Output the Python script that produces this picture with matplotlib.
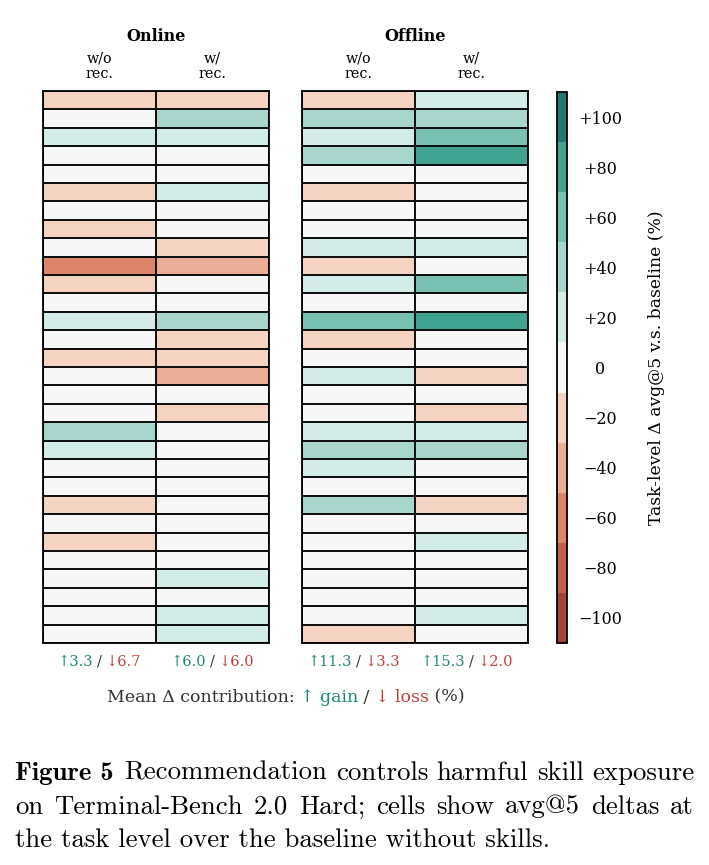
import numpy as np
import matplotlib
matplotlib.use("Agg")
import matplotlib.pyplot as plt
from matplotlib.colors import ListedColormap, BoundaryNorm

# task-level avg@5 delta vs. no-skill baseline (%), 30 Terminal-Bench hard tasks
online_wo = [-20, 0, 20, 0, 0, -20, 0, -20, 0, -60, -20, 0, 20, 0, -20,
             0, 0, 0, 40, 20, 0, 0, -20, 0, -20, 0, 0, 0, 0, 0]
online_w = [-20, 40, 20, 0, 0, 20, 0, 0, -20, -40, 0, 0, 40, -20, -20,
            -40, 0, -20, 0, 0, 0, 0, 0, 0, 0, 0, 20, 0, 20, 20]
offline_wo = [-20, 40, 20, 40, 0, -20, 0, 0, 20, -20, 20, 0, 60, -20, 0,
              20, 0, 0, 20, 40, 20, 0, 40, 0, 0, 0, 0, 0, 0, -20]
offline_w = [20, 40, 60, 80, 0, 0, 0, 0, 20, 0, 60, 0, 80, 0, 0,
             -20, 0, -20, 20, 40, 0, 0, -20, 0, 20, 0, 0, 0, 20, 0]

panels = ["Online", "Offline"]
col_labels = ["w/o\nrec.", "w/\nrec."]
cbar_ticks = np.arange(-100, 101, 20)
bin_edges = np.arange(-110, 111, 20)
bin_colors = ["#a3443a", "#c55f4b", "#db866a", "#eaae96", "#f4d3c2", "#f7f7f7",
              "#d4ece7", "#a9d6cc", "#78c0b1", "#40a28f", "#1c7b6e"]

TEAL, RED, DARK = "#1b8a78", "#c0433a", "#333333"
SERIF = ["DejaVu Serif", "DejaVu Sans"]
plt.rcParams["font.family"] = SERIF

cmap = ListedColormap(bin_colors)
norm = BoundaryNorm(bin_edges, cmap.N)

fig = plt.figure(figsize=(7.09, 8.65), dpi=100)
W, H = 709, 865
def box(x0, y0, x1, y1):
    return [x0 / W, 1 - y1 / H, (x1 - x0) / W, (y1 - y0) / H]

axes = [fig.add_axes(box(43, 91, 269, 643)), fig.add_axes(box(302, 91, 528, 643))]
cax = fig.add_axes(box(557, 92, 567, 643))

data = [np.array([online_wo, online_w]).T, np.array([offline_wo, offline_w]).T]
for ax, title, d in zip(axes, panels, data):
    mesh = ax.pcolormesh(np.arange(3), np.arange(d.shape[0] + 1), d, cmap=cmap, norm=norm,
                         edgecolors="#111111", linewidth=1.3)
    ax.set_ylim(d.shape[0], 0)
    ax.set_xticks([]); ax.set_yticks([])
    for s in ax.spines.values():
        s.set_linewidth(1.3)
    ax.text(0.5, 1.098, title, transform=ax.transAxes, ha="center", va="center",
            fontsize=11.5, fontweight="bold")
    for j, lab in enumerate(col_labels):
        ax.text((j + 0.5) / 2, 1.018, lab, transform=ax.transAxes, ha="center", va="bottom",
                fontsize=10.3, linespacing=1.15)
        # mean gain / loss contribution per column
        col = d[:, j]
        gain = col[col > 0].sum() / len(col)
        loss = -col[col < 0].sum() / len(col)
        x = (j + 0.5) / 2
        kw = dict(transform=ax.transAxes, va="center", fontsize=10.5)
        ax.text(x, -0.034, "/", ha="center", color=DARK, **kw)
        ax.annotate(f"\u2191{gain:.1f}", (x, -0.034), xycoords="axes fraction",
                    xytext=(-4.5, 0), textcoords="offset points", ha="right", va="center",
                    fontsize=10.5, color=TEAL)
        ax.annotate(f"\u2193{loss:.1f}", (x, -0.034), xycoords="axes fraction",
                    xytext=(4.5, 0), textcoords="offset points", ha="left", va="center",
                    fontsize=10.5, color=RED)

cb = fig.colorbar(mesh, cax=cax, ticks=cbar_ticks)
cb.minorticks_off()
cb.outline.set_linewidth(1.3)
cb.ax.set_yticklabels([f"+{t}" if t > 0 else (f"\u2212{-t}" if t < 0 else "0")
                       for t in cbar_ticks], ha="center")
cb.ax.tick_params(length=0, pad=24, labelsize=11.5)
cb.set_label("Task-level \u0394 avg@5 v.s. baseline (%)", fontsize=12.3, labelpad=18.5)

# legend line for the bottom annotations, built from coloured pieces
pieces = [("Mean \u0394 contribution: ", DARK), ("\u2191 gain", TEAL), (" / ", DARK),
          ("\u2193 loss", RED), (" (%)", DARK)]
fig.canvas.draw()
r = fig.canvas.get_renderer()
tmp = [fig.text(0, 0, p, fontsize=12.5) for p, _ in pieces]
widths = [t.get_window_extent(r).width for t in tmp]
for t in tmp:
    t.remove()
x = 285.5 - sum(widths) / 2
for (p, c), w in zip(pieces, widths):
    fig.text(x / W, 1 - 697 / H, p, fontsize=12.5, color=c, va="center")
    x += w

# caption, justified like the paper (last line ragged)
cap = ["Recommendation controls harmful skill exposure",
       "on Terminal-Bench 2.0 Hard; cells show avg@5 deltas at",
       "the task level over the baseline without skills."]
CM = ["cmr10", "DejaVu Serif"]
FS = 19.3
RIGHT = 694
fb = fig.text(15 / W, 1 - 780 / H, "Figure 5", fontsize=FS, family=["cmb10", "DejaVu Serif"],
              va="baseline")
fig.canvas.draw()
starts = [fb.get_window_extent(r).x1 + 11, 15, 15]
for i, (line, x0) in enumerate(zip(cap, starts)):
    y = 1 - (780 + 33.5 * i) / H
    if i == len(cap) - 1:
        fig.text(x0 / W, y, line, fontsize=FS, family=CM, va="baseline")
        continue
    words = line.split()
    ts = [fig.text(0, y, w, fontsize=FS, family=CM, va="baseline") for w in words]
    ws = [t.get_window_extent(r).width for t in ts]
    gap = (RIGHT - x0 - sum(ws)) / (len(words) - 1)
    x = x0
    for t, w in zip(ts, ws):
        t.set_x(x / W)
        x += w + gap

fig.savefig("out.png", dpi=100)
